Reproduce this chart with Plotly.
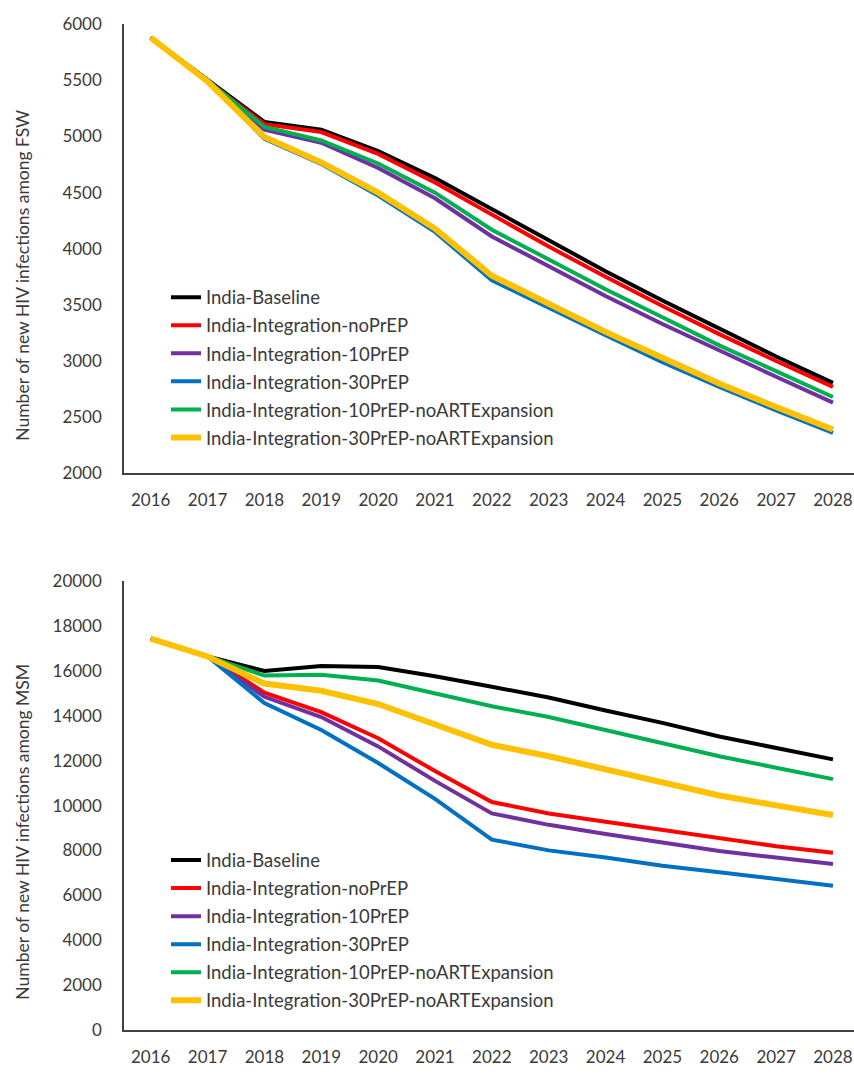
import plotly.graph_objects as go

years = [2016, 2017, 2018, 2019, 2020, 2021, 2022, 2023, 2024, 2025, 2026, 2027, 2028]
year_labels = [str(y) for y in years]

scenarios = [
    "India-Baseline",
    "India-Integration-noPrEP",
    "India-Integration-10PrEP",
    "India-Integration-30PrEP",
    "India-Integration-10PrEP-noARTExpansion",
    "India-Integration-30PrEP-noARTExpansion",
]
colors = ["#000000", "#FF0000", "#7030A0", "#0070C0", "#00B050", "#FFC000"]
widths = [4, 4, 4, 4, 4, 6]

# New HIV infections among female sex workers (FSW)
fsw_baseline = [5880, 5500, 5130, 5060, 4870, 4630, 4350, 4070, 3800, 3540, 3290, 3040, 2805]
fsw_noprep = [5880, 5500, 5110, 5040, 4845, 4590, 4300, 4020, 3750, 3490, 3240, 3000, 2770]
fsw_10prep = [5880, 5500, 5060, 4945, 4720, 4450, 4110, 3840, 3580, 3330, 3090, 2860, 2630]
fsw_30prep = [5880, 5490, 4980, 4755, 4475, 4150, 3720, 3470, 3230, 2990, 2770, 2560, 2360]
fsw_10prep_noart = [5880, 5500, 5085, 4965, 4760, 4500, 4170, 3900, 3640, 3390, 3140, 2910, 2680]
fsw_30prep_noart = [5880, 5490, 4995, 4770, 4500, 4180, 3760, 3510, 3260, 3030, 2800, 2590, 2390]

# New HIV infections among men who have sex with men (MSM)
msm_baseline = [17450, 16650, 16000, 16230, 16180, 15770, 15300, 14820, 14240, 13690, 13080, 12560, 12060]
msm_noprep = [17450, 16650, 15040, 14170, 13000, 11540, 10160, 9650, 9280, 8920, 8560, 8190, 7900]
msm_10prep = [17450, 16650, 14850, 13950, 12640, 11100, 9650, 9140, 8730, 8340, 7970, 7680, 7390]
msm_30prep = [17450, 16650, 14570, 13370, 11900, 10300, 8480, 8000, 7680, 7320, 7030, 6730, 6420]
msm_10prep_noart = [17450, 16650, 15800, 15840, 15580, 15000, 14430, 13950, 13370, 12780, 12200, 11690, 11180]
msm_30prep_noart = [17450, 16650, 15440, 15120, 14530, 13590, 12710, 12200, 11620, 11030, 10450, 10010, 9580]

fsw_series = [fsw_baseline, fsw_noprep, fsw_10prep, fsw_30prep, fsw_10prep_noart, fsw_30prep_noart]
msm_series = [msm_baseline, msm_noprep, msm_10prep, msm_30prep, msm_10prep_noart, msm_30prep_noart]

FONT = "Lato, Carlito, Calibri, sans-serif"
TEXT = "#3a3a3a"

fig = go.Figure()

for name, vals, col, w in zip(scenarios, fsw_series, colors, widths):
    fig.add_trace(go.Scatter(
        x=years, y=vals, name=name, mode="lines",
        line=dict(color=col, width=w),
        xaxis="x", yaxis="y", legend="legend", legendgroup="a" + name,
    ))

for name, vals, col, w in zip(scenarios, msm_series, colors, widths):
    fig.add_trace(go.Scatter(
        x=years, y=vals, name=name, mode="lines",
        line=dict(color=col, width=w),
        xaxis="x2", yaxis="y2", legend="legend2", legendgroup="b" + name,
    ))

W, H = 854, 1078
x_dom = [124 / W, 1.0]
top_dom = [(H - 471.5) / H, (H - 13.5) / H]
bot_dom = [(H - 1039) / H, (H - 581.7) / H]

xrange = [2015.53, 2028.37]

def xaxis(anchor):
    return dict(
        domain=x_dom, range=xrange, anchor=anchor,
        tickmode="array", tickvals=years, ticktext=year_labels,
        showgrid=False, zeroline=False,
        showline=True, linecolor="#404040", linewidth=1.5,
        ticks="outside", ticklen=11, tickcolor="rgba(0,0,0,0)",
        tickfont=dict(family=FONT, size=17, color=TEXT),
    )

def yaxis(anchor, dom, rng, step):
    return dict(
        domain=dom, range=rng, anchor=anchor, dtick=step, tick0=0,
        tickformat="d",
        showgrid=False, zeroline=False,
        showline=True, linecolor="#404040", linewidth=1.5,
        ticks="outside", ticklen=17, tickcolor="rgba(0,0,0,0)",
        tickfont=dict(family=FONT, size=17, color=TEXT),
    )

legend_common = dict(
    xanchor="left", yanchor="top",
    bgcolor="rgba(0,0,0,0)", borderwidth=0,
    font=dict(family=FONT, size=18.5, color=TEXT),
    tracegroupgap=1, itemwidth=30,
)

fig.update_layout(
    width=W, height=H,
    margin=dict(l=0, r=0, t=0, b=0),
    paper_bgcolor="white", plot_bgcolor="white",
    xaxis=xaxis("y"),
    yaxis=yaxis("x", top_dom, [2000, 6000], 500),
    xaxis2=xaxis("y2"),
    yaxis2=yaxis("x2", bot_dom, [0, 20000], 2000),
    legend=dict(legend_common, x=166 / W, y=(H - 273) / H),
    legend2=dict(legend_common, x=166 / W, y=(H - 847) / H),
    annotations=[
        dict(text="Number of new HIV infections among FSW", textangle=-90,
             x=23 / W, y=(H - 270) / H, xref="paper", yref="paper",
             xanchor="center", yanchor="middle",
             showarrow=False, font=dict(family=FONT, size=17.5, color=TEXT)),
        dict(text="Number of new HIV infections among MSM", textangle=-90,
             x=23 / W, y=(H - 837) / H, xref="paper", yref="paper",
             xanchor="center", yanchor="middle",
             showarrow=False, font=dict(family=FONT, size=17.5, color=TEXT)),
    ],
)

fig.write_html("out.html")
